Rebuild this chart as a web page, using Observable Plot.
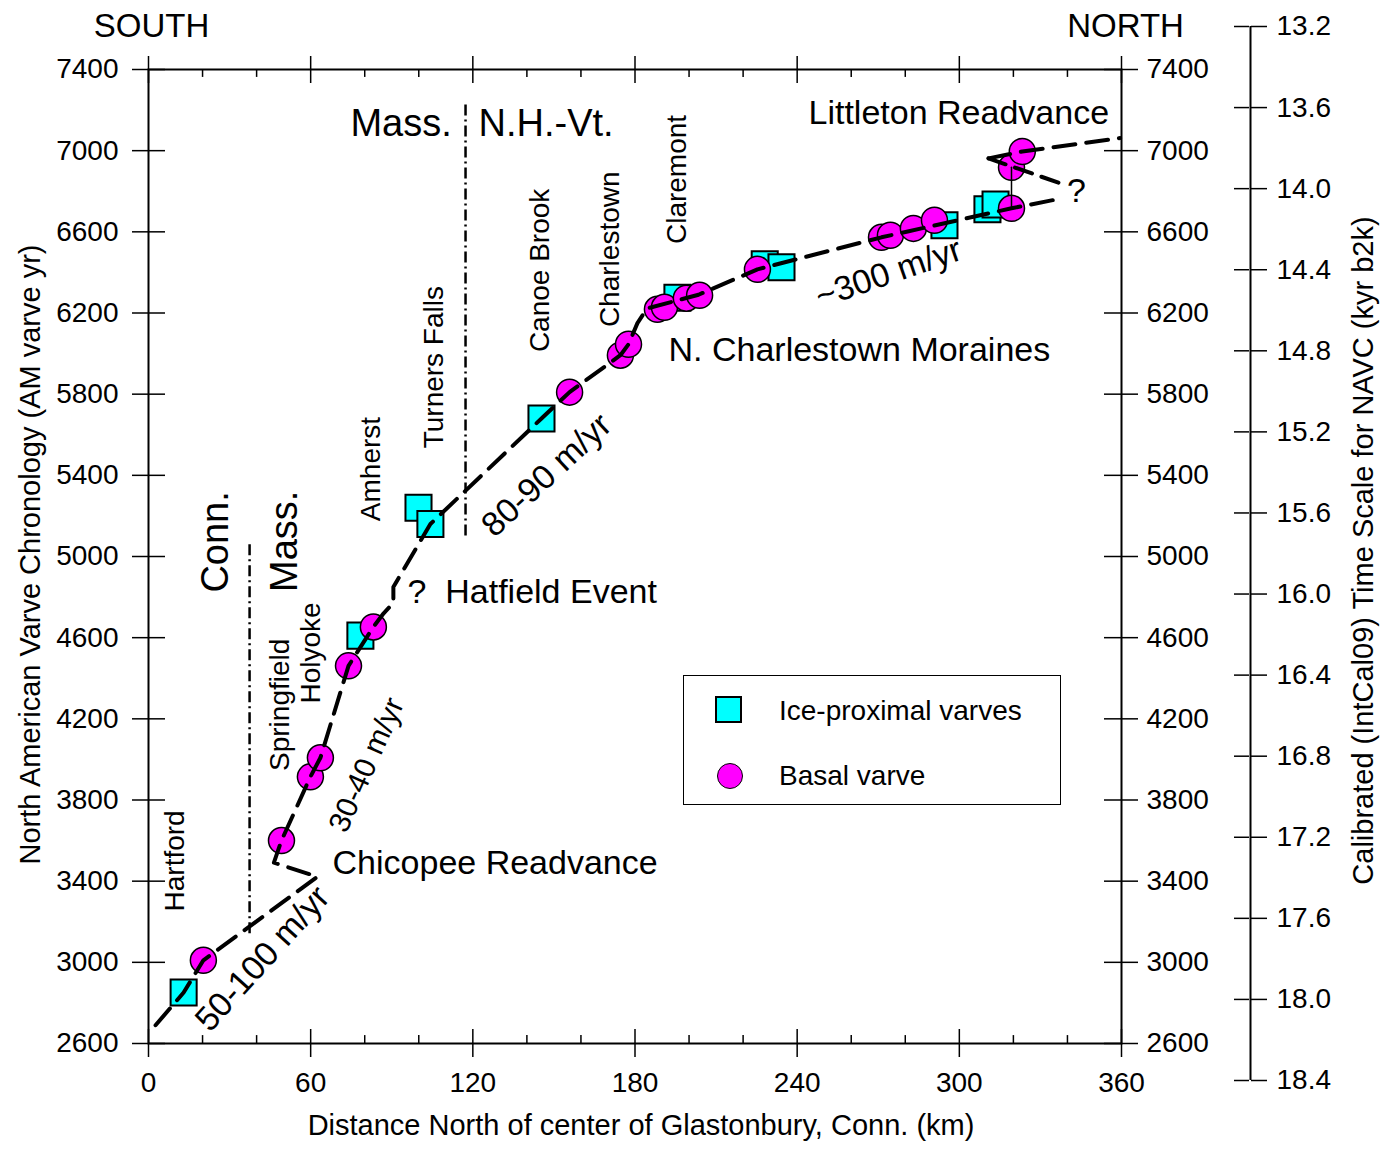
<!DOCTYPE html>
<html><head><meta charset="utf-8">
<script src="https://cdn.jsdelivr.net/npm/d3@7"></script>
<script src="https://cdn.jsdelivr.net/npm/@observablehq/plot@0.6"></script>
<style>
body{margin:0;background:#fff;font-family:"Liberation Sans",Arial,sans-serif;}
#wrap{position:relative;width:1392px;height:1152px;overflow:hidden;}
#wrap svg{position:absolute;left:0;top:0;}
#legend{position:absolute;left:683px;top:675px;width:378px;height:130px;border:1.5px solid #000;box-sizing:border-box;background:#fff;font-size:28px;color:#000;}
#legend .sq{position:absolute;left:31px;top:20px;width:27px;height:27px;background:#00ffff;border:2.5px solid #000;box-sizing:border-box;}
#legend .ci{position:absolute;left:33px;top:87px;width:26px;height:26px;background:#ff00ff;border:1.5px solid #000;border-radius:50%;box-sizing:border-box;}
#legend .t{position:absolute;left:95px;line-height:1;}
</style></head>
<body>
<div id="wrap"></div>
<script>
// ---- data ----
const yTicks = [2600,3000,3400,3800,4200,4600,5000,5400,5800,6200,6600,7000,7400];
const xTicks = [0,60,120,180,240,300,360];
const xMinor = [20,40,80,100,140,160,200,220,260,280,320,340];
const calTicks = [13.2,13.6,14.0,14.4,14.8,15.2,15.6,16.0,16.4,16.8,17.2,17.6,18.0,18.4];

// Ice-proximal varves (km, AM varve yr)
const iceKm = [13,78.4,99.9,104.3,145.4,195.7,228,234.2,294.5,310.4,313.4];
const iceYr = [2851,4610,5240,5160,5680,6275,6440,6425,6632,6711,6735];

// Basal varves
const basalKm = [20.3,49.2,59.9,63.6,74,83.2,155.8,174.6,177.6,188.3,190.9,199,203.9,225.3,271.2,274.5,283,290.8,319.3,319.3,323.3];
const basalYr = [3010,3600,3914,4008,4461,4653,5810,5992,6046,6218,6228,6273,6287,6415,6573,6583,6617,6657,6716,6918,6996];

// Ice-margin retreat line
const frontKm = [2.6,13,20.3,62.5,46.4,49.2,59.9,63.6,74,83.2,87,90.6,90.6,104.3,145.4,155.8,174.6,177.6,180.9,184.4,203.5,225.3,271.2,319.3,336.8];
const frontYr = [2690,2851,3010,3422,3491,3600,3914,4008,4461,4653,4720,4771,4850,5160,5680,5810,5992,6046,6150,6222,6290,6415,6573,6716,6762];
// Littleton readvance lines
const littleKm = [310.8,323.3,359.5];
const littleYr = [6962,6996,7062];
const little2Km = [310.8,337.4];
const little2Yr = [6962,6839];
const linkKm = [319.3,319.3];
const linkYr = [6716,6918];

// state boundaries (dash-dot)
const bndKm = [37.4,117.3];
const bndTop = [5076,7242];
const bndBot = [3141,5101];

const pts = (a,b) => a.map((v,i)=>[v,b[i]]);
const F = "Liberation Sans, Arial, sans-serif";
const lab = (t, x, y, o={}) => Plot.text([t], {x, y, fontSize: 28, fontFamily: F, ...o});

const main = Plot.plot({
  width:1392, height:1152, marginLeft:148, marginRight:271, marginTop:69, marginBottom:109,
  x:{domain:[0,360]}, y:{domain:[2600,7400]},
  style:{background:"transparent", fontFamily:F, color:"#000", overflow:"visible"},
  marks:[
    Plot.axisY({anchor:"left", ticks:yTicks, tickSize:16, tickPadding:14, tickFormat:d3.format("d"), fontSize:28, fontFamily:F, label:null, strokeWidth:1.5}),
    Plot.axisY({anchor:"right", ticks:yTicks, tickSize:16, tickPadding:9, tickFormat:d3.format("d"), fontSize:28, fontFamily:F, label:null, strokeWidth:1.5}),
    Plot.axisX({anchor:"bottom", ticks:xTicks, tickSize:14, tickPadding:15, tickFormat:d3.format("d"), fontSize:28, fontFamily:F, label:null, strokeWidth:1.5}),
    Plot.axisX({anchor:"top", ticks:xTicks, tickSize:14, tickFormat:()=>"", label:null, strokeWidth:1.5}),
    Plot.ruleY(yTicks, {x1:0, x2:6.3, strokeWidth:1.5}),
    Plot.ruleY(yTicks, {x1:353.7, x2:360, strokeWidth:1.5}),
    Plot.ruleX(xTicks, {y1:2600, y2:2669, strokeWidth:1.5}),
    Plot.ruleX(xTicks, {y1:7400, y2:7331, strokeWidth:1.5}),
    Plot.ruleX(xMinor, {y1:2600, y2:2639, strokeWidth:1.5}),
    Plot.ruleX(xMinor, {y1:7400, y2:7361, strokeWidth:1.5}),
    Plot.frame({stroke:"#000", strokeWidth:2}),
    // boundaries
    Plot.ruleX(bndKm, {x: bndKm, y1: bndBot, y2: bndTop, stroke:"#000", strokeWidth:2.5, strokeDasharray:"11,4,2,4"}),
    // markers
    Plot.dot(pts(iceKm, iceYr), {x:d=>d[0], y:d=>d[1], symbol:"square", r:14.7, fill:"#00ffff", stroke:"#000", strokeWidth:2}),
    Plot.dot(pts(basalKm, basalYr), {x:d=>d[0], y:d=>d[1], r:13, fill:"#ff00ff", stroke:"#000", strokeWidth:1.5}),
    // lines
    Plot.line(pts(linkKm, linkYr), {x:d=>d[0], y:d=>d[1], stroke:"#000", strokeWidth:1.5}),
    Plot.line(pts(frontKm, frontYr), {x:d=>d[0], y:d=>d[1], stroke:"#000", strokeWidth:4, strokeDasharray:"22,11"}),
    Plot.line(pts(littleKm, littleYr), {x:d=>d[0], y:d=>d[1], stroke:"#000", strokeWidth:4, strokeDasharray:"22,11"}),
    Plot.line(pts(little2Km, little2Yr), {x:d=>d[0], y:d=>d[1], stroke:"#000", strokeWidth:4, strokeDasharray:"18,10"}),
    // top labels
    Plot.text(["SOUTH"], {x:0, frameAnchor:"top", lineAnchor:"middle", dx:3, dy:-43, fontSize:33, fontFamily:F}),
    Plot.text(["NORTH"], {x:360, frameAnchor:"top", lineAnchor:"middle", dx:4, dy:-43, fontSize:33, fontFamily:F}),
    // axis titles
    Plot.text(["North American Varve Chronology (AM varve yr)"], {frameAnchor:"left", textAnchor:"middle", lineAnchor:"middle", dx:-118, dy:-2, rotate:-90, fontSize:29, fontFamily:F}),
    Plot.text(["Distance North of center of Glastonbury, Conn. (km)"], {frameAnchor:"bottom", textAnchor:"middle", lineAnchor:"middle", dx:6, dy:82, fontSize:29, fontFamily:F}),
    // region labels
    lab("Mass.", 74.7, 7134, {textAnchor:"start", fontSize:38}),
    lab("N.H.-Vt.", 122.1, 7134, {textAnchor:"start", fontSize:38}),
    lab("Conn.", 24.8, 5072, {rotate:-90, fontSize:38}),
    lab("Mass.", 50.3, 5075, {rotate:-90, fontSize:38}),
    // places
    lab("Hartford", 10, 3500, {rotate:-90}),
    lab("Springfield", 48.8, 4269, {rotate:-90}),
    lab("Holyoke", 60.3, 4525, {rotate:-90}),
    lab("Amherst", 82.5, 5431, {rotate:-90}),
    lab("Turners Falls", 105.8, 5933, {rotate:-90}),
    lab("Canoe Brook", 145, 6410, {rotate:-90}),
    lab("Charlestown", 170.9, 6514, {rotate:-90}),
    lab("Claremont", 195.4, 6858, {rotate:-90}),
    // events
    lab("Littleton Readvance", 244.2, 7183, {textAnchor:"start", fontSize:34}),
    lab("N. Charlestown Moraines", 192.4, 6017, {textAnchor:"start", fontSize:34}),
    lab("?  Hatfield Event", 95.8, 4825, {textAnchor:"start", fontSize:34}),
    lab("Chicopee Readvance", 68.1, 3491, {textAnchor:"start", fontSize:34}),
    lab("?", 343.3, 6799, {fontSize:34}),
    // rates
    lab("50-100 m/yr", 42.2, 3018, {rotate:-48, fontSize:34}),
    lab("30-40 m/yr", 80.7, 3973, {rotate:-66, fontSize:30}),
    lab("80-90 m/yr", 147.3, 5401, {rotate:-43, fontSize:34}),
    lab("~300 m/yr", 273.8, 6396, {rotate:-19, fontSize:34})
  ]
});

const cal = Plot.plot({
  width:1392, height:1152, marginLeft:1249, marginRight:142, marginTop:26, marginBottom:72,
  x:{domain:[0,1], axis:null}, y:{domain:[18.4,13.2]},
  style:{background:"transparent", fontFamily:F, color:"#000", overflow:"visible"},
  marks:[
    Plot.axisY({anchor:"right", ticks:calTicks, tickSize:16, tickPadding:10, tickFormat:d3.format(".1f"), fontSize:28, fontFamily:F, label:null, strokeWidth:1.5}),
    Plot.axisY({anchor:"left", ticks:calTicks, tickSize:15, tickFormat:()=>"", label:null, strokeWidth:1.5}),
    Plot.ruleX([1], {y1:13.2, y2:18.4, stroke:"#000", strokeWidth:2}),
    Plot.text(["Calibrated (IntCal09) Time Scale for NAVC (kyr b2k)"], {frameAnchor:"right", textAnchor:"middle", lineAnchor:"middle", dx:113, dy:-3, rotate:-90, fontSize:29, fontFamily:F})
  ]
});

const wrap = document.getElementById("wrap");
wrap.appendChild(main);
wrap.appendChild(cal);
const lg = document.createElement("div");
lg.id = "legend";
lg.innerHTML = '<div class="sq"></div><div class="t" style="top:21px">Ice-proximal varves</div><div class="ci"></div><div class="t" style="top:86px">Basal varve</div>';
wrap.appendChild(lg);
</script>
</body></html>
